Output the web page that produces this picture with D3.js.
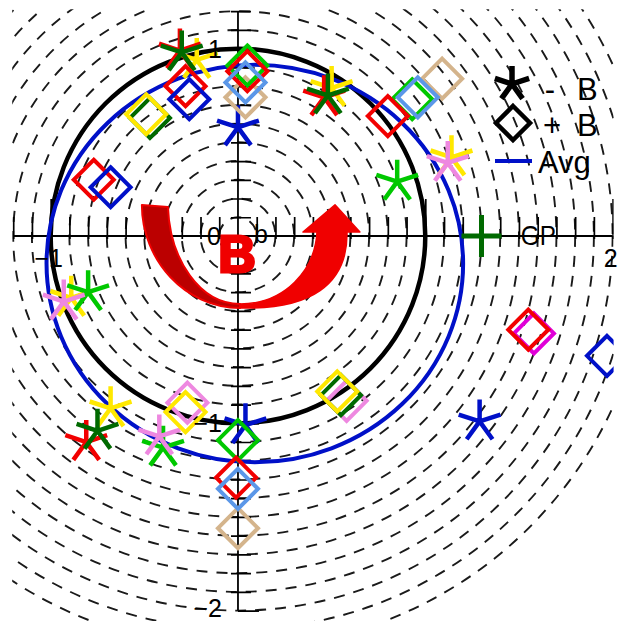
<!DOCTYPE html>
<html>
<head>
<meta charset="utf-8">
<script src="https://cdn.jsdelivr.net/npm/d3@7"></script>
<style>
  html, body { margin: 0; padding: 0; background: #fff; }
  svg { display: block; }
  text { font-family: "Liberation Sans", Arial, sans-serif; }
</style>
</head>
<body>
<svg id="chart" width="625" height="621"></svg>
<script>
// ---- data (plot units) ----------------------------------------------------
// "- B" points drawn as asterisks, "+ B" points drawn as diamonds
const redMinusB       = [[-0.31, 0.99], [0.46, 0.74], [-0.81, -1.10]];
const redPlusB        = [[0.05, 0.88], [-0.28, 0.80], [-0.77, 0.30], [0.80, 0.64], [-0.01, -1.29], [1.55, -0.50]];
const darkGreenMinusB = [[-0.30, 0.98], [0.48, 0.75], [-0.75, -1.04]];
const darkGreenPlusB  = [[-0.47, 0.63], [0.55, -0.85]];
const greenMinusB     = [[0.85, 0.29], [-0.80, -0.30], [-0.40, -1.13]];
const greenPlusB      = [[0.05, 0.91], [0.93, 0.73], [0.00, -1.09]];
const yellowMinusB    = [[-0.22, 0.94], [0.50, 0.79], [1.14, 0.42], [-0.89, -0.33], [-0.68, -0.92]];
const yellowPlusB     = [[-0.49, 0.65], [-0.28, -0.94], [0.53, -0.83]];
const blueMinusB      = [[0.00, 0.58], [0.04, -1.01], [1.29, -0.99]];
const bluePlusB       = [[-0.26, 0.73], [-0.68, 0.26], [1.97, -0.64]];
const lightBluePlusB  = [[0.04, 0.82], [0.96, 0.74], [0.00, -1.35]];
const tanPlusB        = [[0.04, 0.74], [1.09, 0.84], [0.00, -1.56]];
const pinkMinusB      = [[1.12, 0.39], [-0.93, -0.35], [-0.42, -1.07]];
const pinkPlusB       = [[-0.27, -0.89], [0.58, -0.88]];
const magentaPlusB    = [[1.58, -0.52]];
const gpPoint         = [[1.30, 0.00]];

// average ellipse: centre, radii
const avgCenter = [0.09, -0.147];
const avgRadii  = [1.112, 1.061];

// axis ranges and labels
const xDomain = [-1.2, 2.0];
const yDomain = [1.2, -2.0];
const ringRadii = d3.range(1, 23).map(i => i / 10);
const xTickLabels = [{v: -1, t: "\u22121"}, {v: 2, t: "2"}];
const yTickLabels = [{v: 1, t: "1"}, {v: -1, t: "\u22121"}, {v: -2, t: "\u22122"}];

// colours
const C = {
  red: "#f20000", darkGreen: "#006a00", green: "#00c800", yellow: "#ffe800",
  blue: "#0010c8", lightBlue: "#5b97e8", tan: "#d4b48c", pink: "#ee88e0", magenta: "#e000d8"
};

// drawing order (later on top)
const asteriskLayers = [
  [yellowMinusB, C.yellow], [redMinusB, C.red], [darkGreenMinusB, C.darkGreen],
  [greenMinusB, C.green], [pinkMinusB, C.pink], [blueMinusB, C.blue]
];
const diamondLayers = [
  [magentaPlusB, C.magenta], [pinkPlusB, C.pink], [darkGreenPlusB, C.darkGreen],
  [yellowPlusB, C.yellow], [tanPlusB, C.tan], [greenPlusB, C.green],
  [redPlusB, C.red], [bluePlusB, C.blue], [lightBluePlusB, C.lightBlue]
];

// ---- scales ---------------------------------------------------------------
const svg = d3.select("#chart");
const x = d3.scaleLinear().domain(xDomain).range([13.2, 612.6]);
const y = d3.scaleLinear().domain(yDomain).range([11.2, 610.6]);
const unit = x(1) - x(0);
const x0 = x(0), y0 = y(0);

svg.append("rect").attr("width", 625).attr("height", 621).attr("fill", "#fff");

svg.append("defs").append("clipPath").attr("id", "plotClip")
  .append("rect")
  .attr("x", x(-1.2) - 1).attr("y", y(1.21))
  .attr("width", x(2.0) - x(-1.2) + 2).attr("height", y(-2.06) - y(1.21));

const plot = svg.append("g").attr("clip-path", "url(#plotClip)");

// dashed rings every 0.1
plot.append("g").selectAll("circle").data(ringRadii).join("circle")
  .attr("cx", x0).attr("cy", y0)
  .attr("r", d => d * unit)
  .attr("fill", "none").attr("stroke", "#1a1a1a")
  .attr("stroke-width", 1.9)
  .attr("stroke-dasharray", "11,9");

// axes
const tickVals = (a, b) => d3.range(Math.round(a * 10), Math.round(b * 10) + 1).map(v => v / 10);
const isMajor = d => Math.abs(d - Math.round(d)) < 1e-9;
const xAxis = d3.axisTop(x).tickValues(tickVals(-1.2, 2.0).filter(v => Math.abs(v) > 1e-9))
  .tickSize(22).tickFormat("");
const yAxis = d3.axisRight(y).tickValues(tickVals(-2.0, 1.2).filter(v => Math.abs(v) > 1e-9))
  .tickSize(20).tickFormat("");

const gx = plot.append("g").attr("transform", `translate(0,${y0 + 3})`).call(xAxis);
gx.select(".domain").remove();
gx.selectAll(".tick line").attr("stroke", "#000").attr("stroke-width", 1.7)
  .attr("y2", d => isMajor(d) ? -40 : -22);

const gy = plot.append("g").attr("transform", `translate(${x0 - 7},0)`).call(yAxis);
gy.select(".domain").remove();
gy.selectAll(".tick line").attr("stroke", "#000").attr("stroke-width", 1.7)
  .attr("x1", d => isMajor(d) ? 7 : 0)
  .attr("x2", d => isMajor(d) ? 28 : 20);

plot.append("line").attr("x1", x(-1.2)).attr("x2", x(2.0)).attr("y1", y0).attr("y2", y0)
  .attr("stroke", "#000").attr("stroke-width", 1.8);
plot.append("line").attr("x1", x0).attr("x2", x0).attr("y1", y(1.2)).attr("y2", y(-2.0))
  .attr("stroke", "#000").attr("stroke-width", 1.8);

// unit circle and average ellipse
plot.append("circle").attr("cx", x0).attr("cy", y0).attr("r", unit)
  .attr("fill", "none").attr("stroke", "#000").attr("stroke-width", 4.5);
plot.append("ellipse")
  .attr("cx", x(avgCenter[0])).attr("cy", y(avgCenter[1]))
  .attr("rx", avgRadii[0] * unit).attr("ry", avgRadii[1] * unit)
  .attr("fill", "none").attr("stroke", C.blue).attr("stroke-width", 4);

// rotation arrow with "B"
const arrowOuterL = [[-0.513, 0.166], [-0.513, -0.128], [-0.283, -0.384], [0.011, -0.384]];
const arrowInnerL = [[0.011, -0.363], [-0.203, -0.363], [-0.363, -0.128], [-0.374, 0.155]];
const arrowOuterR = [[0.011, -0.384], [0.384, -0.395], [0.587, -0.262], [0.582, 0.021]];
const arrowHead   = [[0.651, 0.021], [0.518, 0.166], [0.347, 0.021], [0.422, 0.021]];
const arrowInnerR = [[0.422, 0.021], [0.411, -0.182], [0.251, -0.363], [0.011, -0.363]];
const P = p => `${x(p[0])},${y(p[1])}`;
const cubic = seg => `C${P(seg[1])} ${P(seg[2])} ${P(seg[3])}`;

const leftBand = `M${P(arrowOuterL[0])} ${cubic(arrowOuterL)} L${P(arrowInnerL[0])} ${cubic(arrowInnerL)} Z`;
const rightBand = `M${P(arrowOuterR[0])} ${cubic(arrowOuterR)} ` +
  arrowHead.map(p => `L${P(p)}`).join(" ") + ` ${cubic(arrowInnerR)} Z`;

const arrow = svg.append("g");
arrow.append("path").attr("d", rightBand).attr("fill", "#f00000")
  .attr("stroke", "#f00000").attr("stroke-width", 1.5).attr("stroke-linejoin", "round");
arrow.append("path").attr("d", leftBand).attr("fill", "#bb0000")
  .attr("stroke", "#f00000").attr("stroke-width", 2).attr("stroke-linejoin", "round");

// tick labels
const labels = svg.append("g").attr("font-size", 25).attr("fill", "#000");
labels.selectAll(".xl").data(xTickLabels).join("text")
  .attr("x", d => x(d.v) - 2).attr("y", y0 + 31).attr("text-anchor", "middle").text(d => d.t);
labels.selectAll(".yl").data(yTickLabels).join("text")
  .attr("x", x0 - 16).attr("y", d => y(d.v) + (d.v === -2 ? 6 : 9)).attr("text-anchor", "end").text(d => d.t);
labels.append("text").attr("x", x0 - 17).attr("y", y0 + 9).attr("text-anchor", "end").text("0");
labels.append("text").attr("x", x0 + 23).attr("y", y0 + 7).attr("text-anchor", "middle").text("b");
labels.append("text").attr("x", x(1.51)).attr("y", y0 + 9).attr("font-size", 28)
  .attr("textLength", 35).attr("lengthAdjust", "spacingAndGlyphs").text("GP");

arrow.append("text").attr("x", x0 - 1).attr("y", y0 + 36).attr("text-anchor", "middle")
  .attr("font-size", 52).attr("font-weight", 900)
  .attr("fill", "#f00000").attr("stroke", "#f00000").attr("stroke-width", 3)
  .text("B");

// markers
const asteriskPath = L => d3.range(5).map(k => {
  const a = (-90 + 72 * k) * Math.PI / 180;
  return `M0,0L${(L * Math.cos(a)).toFixed(2)},${(L * Math.sin(a)).toFixed(2)}`;
}).join("");
const diamondPath = r => `M0,${-r}L${r},0L0,${r}L${-r},0Z`;

const marks = plot.append("g");
asteriskLayers.forEach(([pts, col]) => {
  marks.append("g").selectAll("path").data(pts).join("path")
    .attr("transform", d => `translate(${x(d[0])},${y(d[1])})`)
    .attr("d", asteriskPath(22))
    .attr("fill", "none").attr("stroke", col).attr("stroke-width", 4.5);
});
diamondLayers.forEach(([pts, col]) => {
  marks.append("g").selectAll("path").data(pts).join("path")
    .attr("transform", d => `translate(${x(d[0])},${y(d[1])})`)
    .attr("d", diamondPath(20))
    .attr("fill", "none").attr("stroke", col).attr("stroke-width", 4);
});
marks.append("g").selectAll("path").data(gpPoint).join("path")
  .attr("transform", d => `translate(${x(d[0])},${y(d[1])})`)
  .attr("d", "M-20,0H20M0,-21V21")
  .attr("fill", "none").attr("stroke", C.darkGreen).attr("stroke-width", 5);

// legend
const legend = svg.append("g").attr("font-size", 31).attr("fill", "#000");
legend.append("path").attr("transform", "translate(512,84)").attr("d", asteriskPath(18))
  .attr("stroke", "#000").attr("stroke-width", 5.5).attr("fill", "none");
legend.append("path").attr("transform", "translate(513,123)").attr("d", diamondPath(17))
  .attr("stroke", "#000").attr("stroke-width", 4.5).attr("fill", "none");
legend.append("line").attr("x1", 495).attr("x2", 532).attr("y1", 161).attr("y2", 161)
  .attr("stroke", C.blue).attr("stroke-width", 4);
legend.append("text").attr("x", 550).attr("y", 100).attr("text-anchor", "middle").text("-");
legend.append("text").attr("x", 552).attr("y", 136).attr("text-anchor", "middle").text("+");
legend.append("text").attr("x", 577).attr("y", 100).text("B");
legend.append("text").attr("x", 577).attr("y", 136).text("B");
legend.append("text").attr("x", 538).attr("y", 173).text("Avg");
</script>
</body>
</html>
